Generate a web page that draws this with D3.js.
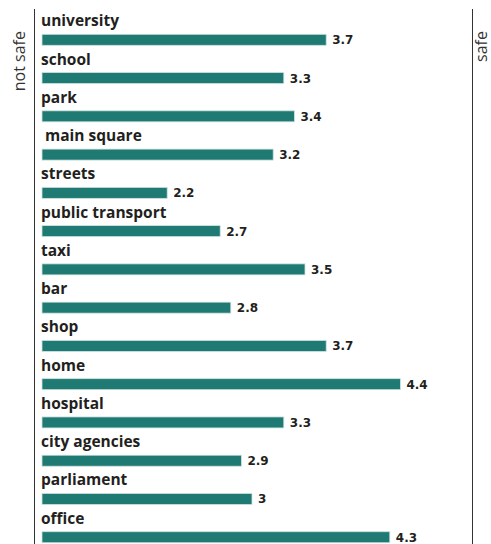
<html>
<head>
<script src="https://d3js.org/d3.v7.min.js"></script>
<style>
  body { margin: 0; background: #fff; }
  .cat { font-family: "Open Sans", sans-serif; font-weight: 700; font-size: 15.5px; fill: #231f20; white-space: pre; }
  .val { font-family: "DejaVu Sans", sans-serif; font-weight: bold; font-size: 12px; fill: #231f20; }
  .side { font-family: "Open Sans", sans-serif; font-weight: 400; font-size: 16px; fill: #333; }
</style>
</head>
<body>
<svg width="491" height="544"></svg>
<script>
// data
var places = ["university", "school", "park", " main square", "streets", "public transport", "taxi",
              "bar", "shop", "home", "hospital", "city agencies", "parliament", "office"]
var scores = [3.7, 3.3, 3.4, 3.2, 2.2, 2.7, 3.5, 2.8, 3.7, 4.4, 3.3, 2.9, 3, 4.3]
var ends = ["not safe", "safe"]

const svg = d3.select("svg")
var x = d3.scaleLinear().domain([1, 5]).range([40, 464])
var y = d3.scaleBand().domain(places).range([14.3, 550]).padding(0)

const rows = svg.append("g").selectAll("g").data(places).enter().append("g")
  .attr("transform", function(d){ return "translate(0," + y(d) + ")" })

rows.append("text").attr("class", "cat")
  .attr("x", x(1) + 1).attr("y", 12)
  .text(function(d){ return d })

rows.append("rect")
  .attr("x", x(1) + 2)
  .attr("y", 20)
  .attr("height", 11)
  .attr("width", function(d, i){ return x(scores[i]) - x(1) - 2 })
  .style("fill", "#1e7a72")
  .style("stroke", "#cfe2df")
  .style("stroke-width", 0.8)

rows.append("text").attr("class", "val")
  .attr("x", function(d, i){ return x(scores[i]) + 6 })
  .attr("y", 30)
  .text(function(d, i){ return scores[i] })

// side lines
svg.append("line").attr("x1", 34.5).attr("x2", 34.5).attr("y1", 9).attr("y2", 544)
  .style("stroke", "#333").style("stroke-width", 1)
svg.append("line").attr("x1", 472.5).attr("x2", 472.5).attr("y1", 9).attr("y2", 544)
  .style("stroke", "#333").style("stroke-width", 1)

svg.append("text").attr("class", "side")
  .attr("transform", "translate(25,31) rotate(-90)")
  .attr("text-anchor", "end").text(ends[0])
svg.append("text").attr("class", "side")
  .attr("transform", "translate(487,31) rotate(-90)")
  .attr("text-anchor", "end").text(ends[1])
</script>
</body>
</html>
